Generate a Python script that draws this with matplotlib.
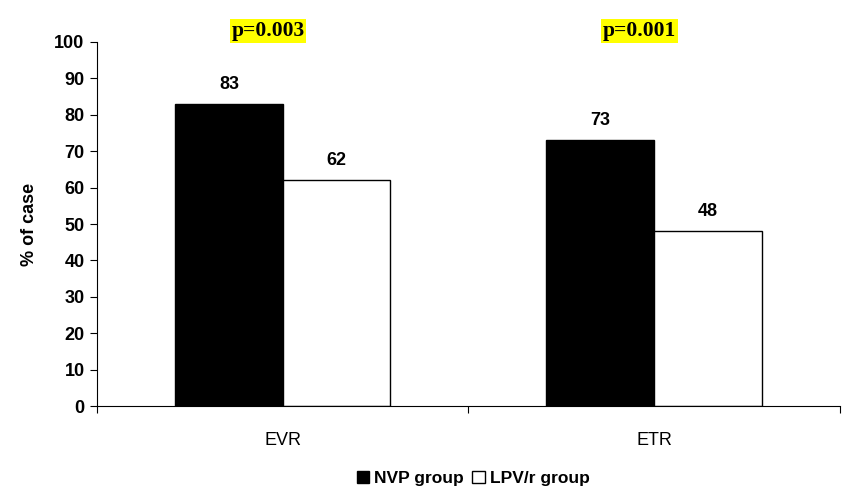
import numpy as np
import matplotlib.pyplot as plt
from matplotlib.patches import Patch

categories = ['EVR', 'ETR']
nvp = [83, 73]
lpv = [62, 48]
p_values = ['p=0.003', 'p=0.001']

fig = plt.figure(figsize=[8.51, 4.94], dpi=100)
ax = fig.add_axes([0.114, 0.178, 0.873, 0.737])

x = np.arange(len(categories))
w = 0.29
b1 = ax.bar(x - w / 2, nvp, w, color='black', edgecolor='black', linewidth=1)
b2 = ax.bar(x + w / 2, lpv, w, color='white', edgecolor='black', linewidth=1)

for bars, vals in [(b1, nvp), (b2, lpv)]:
    for bar, v in zip(bars, vals):
        ax.text(bar.get_x() + bar.get_width() / 2, v + 3, str(v),
                ha='center', va='bottom', fontsize=13, fontweight='bold',
                family='Liberation Sans')

for xi, p in zip(x, p_values):
    ax.text(xi - 0.04, 103, p, ha='center', va='center', fontsize=15.5,
            fontweight='bold', family='Liberation Serif',
            bbox=dict(facecolor='#ffff00', edgecolor='none', pad=1.2),
            clip_on=False)

ax.set_xlim(-0.5, len(categories) - 0.5)
ax.set_ylim(0, 100)
ax.set_yticks(np.arange(0, 101, 10))
ax.set_xticks(np.arange(-0.5, len(categories), 1))
ax.set_xticklabels([])
ax.set_xticks(x, minor=True)
ax.set_xticklabels(categories, minor=True, fontsize=13, family='Liberation Sans')
ax.tick_params(axis='x', which='minor', length=0, pad=19)
ax.tick_params(axis='x', which='major', length=5, direction='out')
ax.tick_params(axis='y', length=5, direction='out', pad=4)
for lab in ax.get_yticklabels():
    lab.set_fontsize(13)
    lab.set_fontweight('bold')
    lab.set_family('Liberation Sans')

ax.spines['top'].set_visible(False)
ax.spines['right'].set_visible(False)
ax.set_ylabel('% of case', fontsize=13, fontweight='bold',
              family='Liberation Sans', labelpad=12)

handles = [Patch(facecolor='black', edgecolor='black', label='NVP group'),
           Patch(facecolor='white', edgecolor='black', label='LPV/r group')]
fig.legend(handles=handles, loc='center', bbox_to_anchor=(0.556, 0.032),
           ncol=2, frameon=False, handlelength=0.7, handleheight=0.7,
           handletextpad=0.3, columnspacing=0.5,
           prop={'family': 'Liberation Sans', 'weight': 'bold', 'size': 12.5})

fig.savefig('out.png', dpi=100)
